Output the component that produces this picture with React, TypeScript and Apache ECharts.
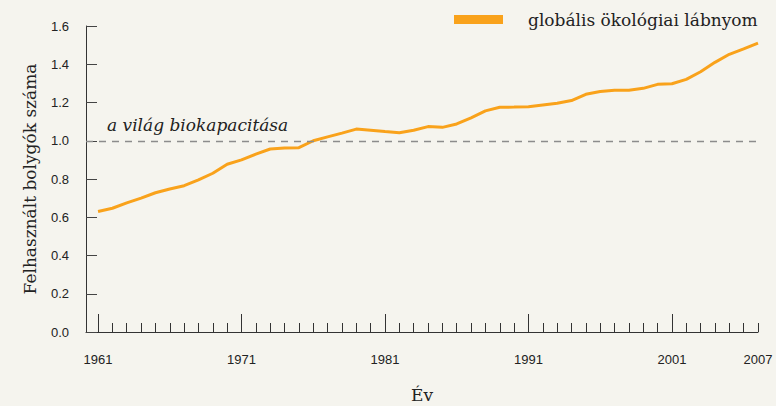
import React, { useEffect, useRef } from "react";
import * as echarts from "echarts";

const years: number[] = [];
for (let y = 1961; y <= 2007; y++) years.push(y);

const footprint = [
  0.63, 0.647, 0.675, 0.70, 0.728, 0.748, 0.765, 0.795, 0.83, 0.877,
  0.90, 0.93, 0.957, 0.962, 0.964, 1.0, 1.02, 1.04, 1.061, 1.055,
  1.048, 1.042, 1.055, 1.074, 1.07, 1.088, 1.12, 1.156, 1.175, 1.176,
  1.178, 1.187, 1.196, 1.21, 1.243, 1.257, 1.264, 1.264, 1.274, 1.295,
  1.298, 1.321, 1.361, 1.41, 1.452, 1.48, 1.51,
];

const majorTicks = [1961, 1971, 1981, 1991, 2001];
const xLabels = [1961, 1971, 1981, 1991, 2001, 2007];
const biocapacity = 1.0;

const seriesName = "globális ökológiai lábnyom";
const yName = "Felhasznált bolygók száma";
const xName = "Év";
const lineLabel = "a világ biokapacitása";

const SERIF = "'DejaVu Serif', serif";
const SANS = "'Liberation Sans', Arial, sans-serif";

export default function App() {
  const ref = useRef<HTMLDivElement>(null);
  useEffect(() => {
    if (!ref.current) return;
    const chart = echarts.init(ref.current, null, { renderer: "svg" });
    const data = years.map((y, i) => [y, footprint[i]]);
    chart.setOption({
      animation: false,
      backgroundColor: "#f5f4ee",
      grid: { left: 86, right: 18, top: 26, bottom: 74, containLabel: false, outerBoundsMode: "none" },
      legend: {
        left: 454,
        top: 11,
        padding: 0,
        icon: "rect",
        itemWidth: 49,
        itemHeight: 9,
        data: [seriesName],
        textStyle: { fontFamily: SERIF, fontSize: 17, color: "#222", padding: [0, 0, 0, 20] },
      },
      xAxis: [
        {
          type: "value",
          min: 1960.16,
          max: 2007,
          position: "bottom",
          axisLine: { show: true, lineStyle: { color: "#333", width: 1 } },
          axisTick: { show: true, inside: true, length: 18, customValues: majorTicks, lineStyle: { color: "#333" } },
          axisLabel: {
            customValues: xLabels,
            margin: 21,
            fontSize: 13,
            fontFamily: SANS,
            color: "#222",
            formatter: (v: number) => String(Math.round(v)),
          },
          splitLine: { show: false },
          name: xName,
          nameLocation: "middle",
          nameGap: 54,
          nameTextStyle: { fontFamily: SERIF, fontSize: 17, color: "#222" },
        },
        {
          type: "value",
          min: 1960.16,
          max: 2007,
          position: "bottom",
          offset: 0,
          axisLine: { show: false },
          axisTick: { show: true, inside: true, length: 9, customValues: years, lineStyle: { color: "#333" } },
          axisLabel: { show: false },
          splitLine: { show: false },
        },
      ],
      yAxis: {
        type: "value",
        min: 0,
        max: 1.6,
        interval: 0.2,
        axisLine: { show: true, lineStyle: { color: "#333", width: 1 } },
        axisTick: { show: true, inside: true, length: 11, lineStyle: { color: "#444" } },
        axisLabel: { margin: 17, fontSize: 13, fontFamily: SANS, color: "#222", formatter: (v: number) => v.toFixed(1) },
        splitLine: { show: false },
        name: yName,
        nameLocation: "middle",
        nameGap: 48,
        nameRotate: 90,
        nameTextStyle: { fontFamily: SERIF, fontSize: 17, color: "#222" },
      },
      series: [
        {
          name: seriesName,
          type: "line",
          data,
          showSymbol: false,
          symbol: "none",
          lineStyle: { color: "#f9a21b", width: 3 },
          itemStyle: { color: "#f9a21b" },
          markLine: {
            silent: true,
            symbol: "none",
            label: { show: false },
            lineStyle: { color: "#8c8c8c", type: [7, 6], width: 1.3 },
            data: [{ yAxis: biocapacity }],
          },
        },
      ],
      graphic: [
        {
          type: "text",
          left: 107,
          top: 116,
          style: {
            text: lineLabel,
            font: `italic 17px ${SERIF}`,
            fill: "#222",
          },
        },
      ],
    });
    return () => chart.dispose();
  }, []);
  return <div ref={ref} style={{ position: "fixed", left: 0, top: 0, width: 776, height: 406 }} />;
}
